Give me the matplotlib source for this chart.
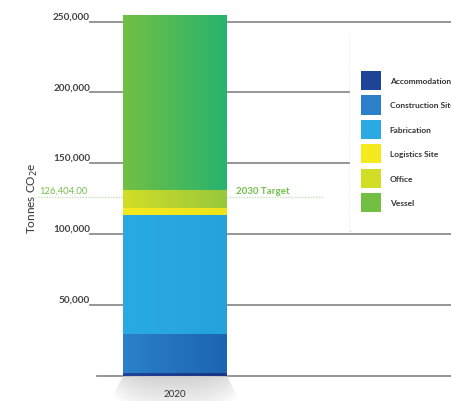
import numpy as np
import matplotlib.pyplot as plt
from matplotlib.patches import Polygon, Rectangle
from matplotlib.colors import LinearSegmentedColormap

plt.rcParams['font.family'] = ['Lato', 'DejaVu Sans']

# emissions by source for 2020, tonnes CO2e (stacked bottom -> top)
year = '2020'
sources = ['Accommodations', 'Construction Site', 'Fabrication',
           'Logistics Site', 'Office', 'Vessel']
emissions = [1700, 27700, 84300, 4500, 12900, 123600]
target_value = 126404.00
target_label = '2030 Target'
yticks = [50000, 100000, 150000, 200000, 250000]

# left/right shades used to fill each segment with a soft gradient
shades = [('#1f4397', '#1b3785'),
          ('#2b80c9', '#1c64b2'),
          ('#2aaae2', '#25a2dc'),
          ('#f4ea1e', '#efe31a'),
          ('#d2dd26', '#98c83c'),
          ('#72bf44', '#28b36e')]

W, H = 452, 402
fig = plt.figure(figsize=(W / 100, H / 100), dpi=100)
ax = fig.add_axes([0, 0, 1, 1])
px = 354.2 / 250000          # pixels per tonne
y0 = 376.7                    # pixel row of zero
ax.set_ylim(-(H - y0) / px, y0 / px)
ax.set_xlim(-175 / 104, (W - 175) / 104)
ax.axis('off')

def xf(p):
    return p / W

grid_c = '#8d8d8d'
# horizontal rules; the middle two stop at the legend panel
for v in yticks:
    xmax = xf(350) if v in (150000, 200000) else 1
    ax.axhline(v, xmin=xf(90), xmax=xmax, color=grid_c, lw=1.3, zorder=1)
ax.axhline(0, xmin=xf(97), xmax=1, color=grid_c, lw=1.3, zorder=1)

for v in yticks:
    ax.text(xf(90), v + 1.2 / px, f'{v:,}', transform=ax.get_yaxis_transform(),
            ha='right', va='bottom', fontsize=7.2, color='#444444',
            fontweight='bold')

# 2030 target dotted rule
ax.axhline(target_value, xmin=xf(35), xmax=xf(323), color='#c8e2b8',
           lw=1.0, ls=(0, (1, 1)), zorder=1)
ax.text(xf(88), target_value + 2 / px, f'{target_value:,.2f}',
        transform=ax.get_yaxis_transform(), ha='right', va='bottom',
        fontsize=6.8, color='#72bf4a')
ax.text(xf(236), target_value + 2 / px, target_label,
        transform=ax.get_yaxis_transform(), ha='left', va='bottom',
        fontsize=7, color='#72bf4a', fontweight='bold')

# stacked bar with horizontal gradients
bottom = 0
handles = []
for name, val, (c1, c2) in zip(sources, emissions, shades):
    rect = ax.bar(0, val, bottom=bottom, width=1.0, color=c1, lw=0,
                  zorder=3, label=name)[0]
    x, y = rect.get_x(), rect.get_y()
    grad = np.linspace(0, 1, 64)[None, :]
    cm = LinearSegmentedColormap.from_list(name, [c1, c2])
    im = ax.imshow(grad, cmap=cm, aspect='auto', zorder=3.5,
                   extent=(x, x + rect.get_width(), y, y + rect.get_height()))
    im.set_clip_path(rect)
    handles.append(rect)
    bottom += val

# soft floor shadow under the bar
floor = -(H - y0) / px
shadow = Polygon([(-0.5, 0), (0.5, 0), (0.62, floor), (-0.62, floor)],
                 closed=True, facecolor='none', edgecolor='none')
ax.add_patch(shadow)
sg = np.linspace(0.0, 1.0, 64)[:, None] * np.ones((1, 64))
edge = np.abs(np.linspace(-1, 1, 64))[None, :]
alpha = np.clip(1 - 0.6 * sg - 0.5 * edge ** 3, 0, 1)
rgba = np.zeros((64, 64, 4))
rgba[..., :3] = 0.82
rgba[..., 3] = alpha
sim = ax.imshow(rgba, aspect='auto', extent=(-0.62, 0.62, floor, 0),
                origin='upper', zorder=2)
sim.set_clip_path(shadow)
ax.text(0, -(395 - y0) / px, year, ha='center', va='center',
        fontsize=7, color='#333333', zorder=4)

# y axis title
fig.text(xf(33), 1 - 198 / H, 'Tonnes CO$_2$e', rotation=90,
         ha='center', va='center', fontsize=8.5, color='#333333')

# legend panel: white card with a faint left edge
panel = Rectangle((xf(350), 1 - 232 / H), xf(120), 196 / H,
                  transform=fig.transFigure, facecolor='white',
                  edgecolor='none', zorder=5)
fig.patches.append(panel)
fig.add_artist(plt.Line2D([xf(350), xf(350)], [1 - 232 / H, 1 - 36 / H],
                          transform=fig.transFigure, color='#d6d6d6',
                          lw=1.0, zorder=5))
ax.set_ylim(ax.get_ylim())
leg = fig.legend(handles=handles, labels=sources, loc='upper left',
                 bbox_to_anchor=(xf(361.5), 1 - 72 / H), frameon=False,
                 fontsize=6, borderpad=0, borderaxespad=0,
                 handlelength=2.4, handleheight=3.14, labelspacing=0.65,
                 handletextpad=1.0)
for t in leg.get_texts():
    t.set_color('#333333')
    t.set_fontweight('bold')
leg.set_zorder(6)

fig.savefig('out.png', dpi=100)
